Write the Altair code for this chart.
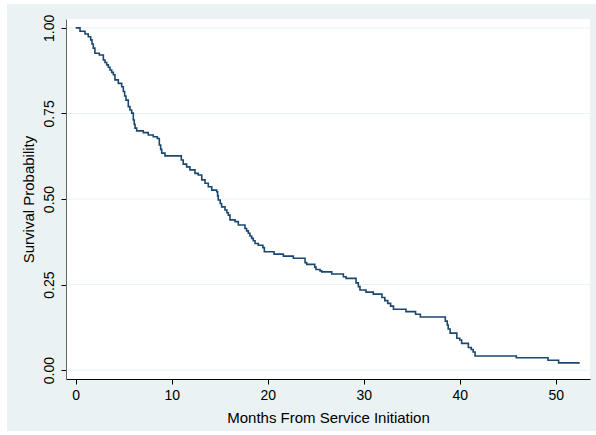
import altair as alt
import pandas as pd

# Kaplan-Meier step values
months = [0.0, 0.45, 0.97, 1.31, 1.56, 1.70, 1.83, 2.00, 2.46, 2.88, 3.05, 3.23, 3.40, 3.57,
          3.75, 3.92, 4.09, 4.44, 4.79, 4.96, 5.10, 5.24, 5.48, 5.65, 5.83, 6.00, 6.10, 6.18,
          6.35, 7.04, 7.56, 8.08, 8.50, 8.71, 8.85, 8.96, 9.30, 11.0, 11.2, 11.56, 11.9, 12.42,
          12.77, 13.13, 13.47, 13.81, 14.17, 14.69, 14.78, 14.85, 15.05, 15.2, 15.55, 15.75,
          15.9, 16.07, 16.6, 16.94, 17.63, 17.8, 17.98, 18.15, 18.33, 18.5, 18.68, 19.02, 19.5,
          19.65, 20.66, 21.63, 22.67, 23.89, 24.06, 24.9, 25.03, 25.45, 25.63, 26.67, 27.88,
          28.16, 29.2, 29.44, 29.61, 30.24, 31.0, 31.9, 32.2, 32.5, 32.8, 33.1, 34.4, 35.4, 35.9,
          38.5, 38.7, 38.8, 39.0, 39.7, 40.0, 40.2, 40.9, 41.2, 41.4, 41.6, 45.9, 49.2, 50.3, 52.5]
survival = [1.000, 0.990, 0.982, 0.974, 0.965, 0.953, 0.941, 0.926, 0.921, 0.906, 0.899, 0.892,
            0.885, 0.877, 0.870, 0.863, 0.848, 0.838, 0.828, 0.814, 0.801, 0.789, 0.770, 0.760,
            0.751, 0.731, 0.718, 0.707, 0.699, 0.694, 0.687, 0.682, 0.677, 0.658, 0.645, 0.634,
            0.626, 0.614, 0.602, 0.594, 0.585, 0.575, 0.570, 0.556, 0.546, 0.536, 0.526, 0.521,
            0.509, 0.497, 0.487, 0.477, 0.468, 0.460, 0.453, 0.439, 0.434, 0.424, 0.414, 0.407,
            0.400, 0.392, 0.385, 0.378, 0.370, 0.365, 0.358, 0.346, 0.339, 0.333, 0.327, 0.314,
            0.309, 0.301, 0.294, 0.290, 0.287, 0.281, 0.273, 0.268, 0.255, 0.244, 0.234, 0.228,
            0.222, 0.212, 0.203, 0.195, 0.187, 0.178, 0.171, 0.163, 0.155, 0.143, 0.132, 0.120,
            0.108, 0.093, 0.088, 0.078, 0.066, 0.060, 0.053, 0.041, 0.036, 0.029, 0.021, 0.021]
y_ticks = [0.0, 0.25, 0.5, 0.75, 1.0]
x_ticks = [0, 10, 20, 30, 40, 50]

df = pd.DataFrame({"t": months, "s": survival})
grid_df = pd.DataFrame({"s": y_ticks})
one = pd.DataFrame({"k": [0]})

W, H = 524, 360
FONT = "Liberation Sans"
xscale = alt.Scale(domain=[-1.01, 53.57], nice=False, zero=False)
yscale = alt.Scale(domain=[-0.026, 1.026], nice=False, zero=False)

x_axis = alt.Axis(values=x_ticks, title="Months From Service Initiation", grid=False,
                  domainColor="black", tickColor="black", tickSize=5, labelFontSize=14,
                  labelPadding=4, titleFontSize=15, titleFontWeight="normal",
                  titlePadding=8, labelFont=FONT, titleFont=FONT, labelColor="black",
                  titleColor="black", zindex=1, labelFlush=False)
y_axis = alt.Axis(values=y_ticks, format=".2f", title="Survival Probability", grid=False,
                  domainColor="#666666", tickColor="black", tickSize=5, labelFontSize=14,
                  labelAngle=270, labelAlign="center", labelBaseline="bottom",
                  labelPadding=5, titleFontSize=15, titleFontWeight="normal",
                  titlePadding=6, labelFont=FONT, titleFont=FONT, labelColor="black",
                  titleColor="black", zindex=1, labelFlush=False)

outer = alt.Chart(one).mark_rect(color="#eaf2f3").encode(
    x=alt.value(-59), x2=alt.value(530), y=alt.value(-15), y2=alt.value(412))
inner = alt.Chart(one).mark_rect(color="white").encode(
    x=alt.value(0), x2=alt.value(W), y=alt.value(0), y2=alt.value(H))
grid = alt.Chart(grid_df).mark_rule(color="#eaf2f3", strokeWidth=1).encode(
    y=alt.Y("s:Q", scale=yscale, axis=y_axis))

line = alt.Chart(df).mark_line(interpolate="step-after", color="#1a476f", strokeWidth=1.6).encode(
    x=alt.X("t:Q", scale=xscale, axis=x_axis),
    y=alt.Y("s:Q", scale=yscale, axis=y_axis),
)

chart = alt.layer(outer, inner, grid, line).properties(
    width=W, height=H,
    autosize=alt.AutoSizeParams(type="none"),
    padding={"left": 66, "top": 19, "right": 6, "bottom": 56},
    background="white",
).configure_view(stroke=None)

chart.save("out.html", embed_options={"renderer": "svg", "actions": False})
